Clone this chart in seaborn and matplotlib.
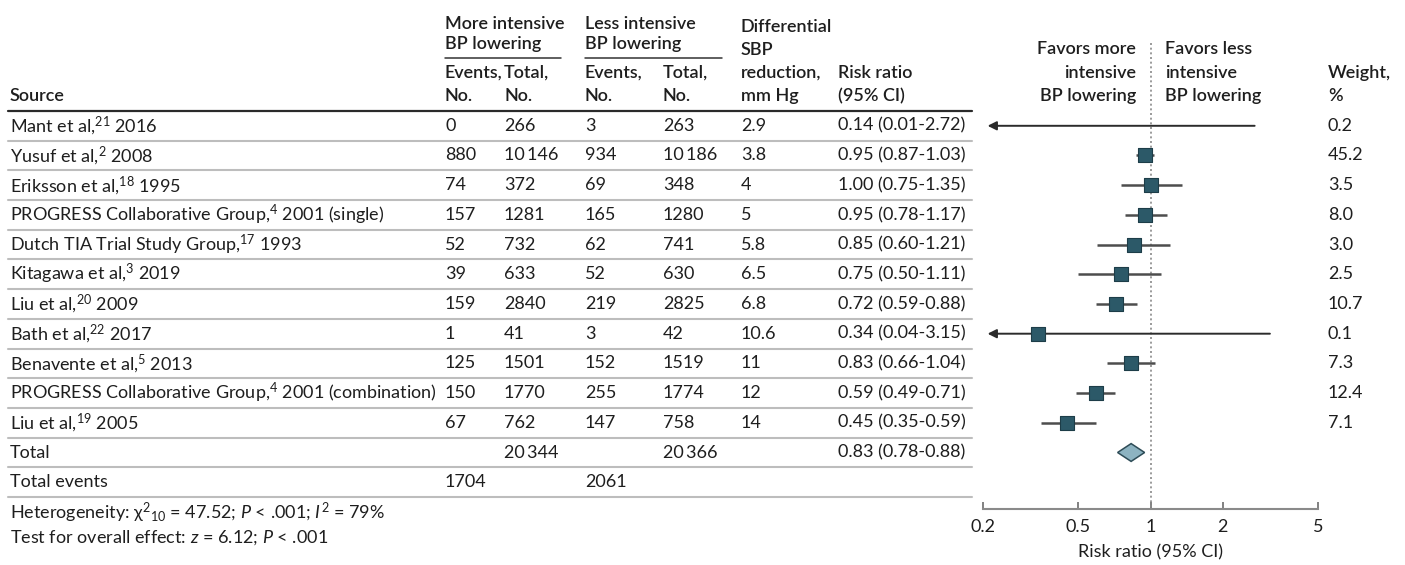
import numpy as np
import pandas as pd
import seaborn as sns
import matplotlib
matplotlib.use("Agg")
import matplotlib.pyplot as plt
from matplotlib.patches import Polygon

# ---- study-level data -------------------------------------------------------
sources = [
    "Mant et al,$^{21}$ 2016",
    "Yusuf et al,$^{2}$ 2008",
    "Eriksson et al,$^{18}$ 1995",
    "PROGRESS Collaborative Group,$^{4}$ 2001 (single)",
    "Dutch TIA Trial Study Group,$^{17}$ 1993",
    "Kitagawa et al,$^{3}$ 2019",
    "Liu et al,$^{20}$ 2009",
    "Bath et al,$^{22}$ 2017",
    "Benavente et al,$^{5}$ 2013",
    "PROGRESS Collaborative Group,$^{4}$ 2001 (combination)",
    "Liu et al,$^{19}$ 2005",
]
ev_more = [0, 880, 74, 157, 52, 39, 159, 1, 125, 150, 67]
tot_more = [266, 10146, 372, 1281, 732, 633, 2840, 41, 1501, 1770, 762]
ev_less = [3, 934, 69, 165, 62, 52, 219, 3, 152, 255, 147]
tot_less = [263, 10186, 348, 1280, 741, 630, 2825, 42, 1519, 1774, 758]
sbp_diff = ["2.9", "3.8", "4", "5", "5.8", "6.5", "6.8", "10.6", "11", "12", "14"]
rr = [0.14, 0.95, 1.00, 0.95, 0.85, 0.75, 0.72, 0.34, 0.83, 0.59, 0.45]
rr_lo = [0.01, 0.87, 0.75, 0.78, 0.60, 0.50, 0.59, 0.04, 0.66, 0.49, 0.35]
rr_hi = [2.72, 1.03, 1.35, 1.17, 1.21, 1.11, 0.88, 3.15, 1.04, 0.71, 0.59]
weight = [0.2, 45.2, 3.5, 8.0, 3.0, 2.5, 10.7, 0.1, 7.3, 12.4, 7.1]

pooled_rr, pooled_lo, pooled_hi = 0.83, 0.78, 0.88
total_more, total_less = 20344, 20366
events_more, events_less = 1704, 2061

axis_ticks = [0.2, 0.5, 1, 2, 5]
axis_tick_labels = ["0.2", "0.5", "1", "2", "5"]

# ---- styling ---------------------------------------------------------------
sns.set_theme(style="white")
FONT = ["Lato", "DejaVu Sans"]
plt.rcParams["font.family"] = FONT
plt.rcParams["mathtext.fontset"] = "custom"
plt.rcParams["mathtext.rm"] = "Lato"
plt.rcParams["mathtext.it"] = "Lato:italic"
plt.rcParams["mathtext.bf"] = "Lato:bold"

W, H = 1405, 565
FS = 13
TXT = "#1e1e1e"
SQ = "#2c5968"
SQ_EDGE = "#1d3d48"
CI = "#4d4d4d"

fig = plt.figure(figsize=(W / 100, H / 100), dpi=100)
fig.patch.set_facecolor("white")

# pixel-space canvas for the table
tab = fig.add_axes([0, 0, 1, 1])
tab.set_xlim(0, W)
tab.set_ylim(H, 0)
tab.axis("off")

ROW0, PITCH = 125.8, 29.7
n = len(sources)


def row_y(i):
    return ROW0 + PITCH * i


def fmt_n(v):
    return f"{v:,}".replace(",", "\u2009") if v >= 10000 else str(v)


def put(x, y, s, ha="left", weight="normal", **kw):
    tab.text(x, y, s, ha=ha, va="center", fontsize=FS, color=TXT,
             fontweight=weight, family=FONT, **kw)


# header block
HW = "semibold"
cols = dict(src=10, em=445, tm=504, el=585, tl=663, sbp=741, rr=838, w=1328)
put(cols["em"], 24, "More intensive", weight=HW)
put(cols["em"], 44, "BP lowering", weight=HW)
put(cols["el"], 24, "Less intensive", weight=HW)
put(cols["el"], 44, "BP lowering", weight=HW)
tab.plot([445, 561], [58, 58], color="#333333", lw=1.1)
tab.plot([585, 722], [58, 58], color="#333333", lw=1.1)
put(cols["em"], 73, "Events,", weight=HW)
put(cols["em"], 96, "No.", weight=HW)
put(cols["tm"], 73, "Total,", weight=HW)
put(cols["tm"], 96, "No.", weight=HW)
put(cols["el"], 73, "Events,", weight=HW)
put(cols["el"], 96, "No.", weight=HW)
put(cols["tl"], 73, "Total,", weight=HW)
put(cols["tl"], 96, "No.", weight=HW)
put(cols["sbp"], 27, "Differential", weight=HW)
put(cols["sbp"], 50, "SBP", weight=HW)
put(cols["sbp"], 73, "reduction,", weight=HW)
put(cols["sbp"], 96, "mm Hg", weight=HW)
put(cols["rr"], 73, "Risk ratio", weight=HW)
put(cols["rr"], 96, "(95% CI)", weight=HW)
put(cols["src"], 96, "Source", weight=HW)
put(1136, 49, "Favors more", ha="right", weight=HW)
put(1136, 73, "intensive", ha="right", weight=HW)
put(1136, 96, "BP lowering", ha="right", weight=HW)
put(1165, 49, "Favors less", weight=HW)
put(1165, 73, "intensive", weight=HW)
put(1165, 96, "BP lowering", weight=HW)
put(cols["w"], 73, "Weight,", weight=HW)
put(cols["w"], 96, "%", weight=HW)

# rule lines
tab.plot([8, 972], [ROW0 - PITCH / 2] * 2, color="#2a2a2a", lw=1.6)
for k in range(1, n + 3):
    yy = ROW0 - PITCH / 2 + PITCH * k
    tab.plot([8, 972], [yy, yy], color="#bdbdbd", lw=1.5)

# study rows
for i in range(n):
    y = row_y(i)
    put(cols["src"], y, sources[i])
    put(cols["em"], y, fmt_n(ev_more[i]))
    put(cols["tm"], y, fmt_n(tot_more[i]))
    put(cols["el"], y, fmt_n(ev_less[i]))
    put(cols["tl"], y, fmt_n(tot_less[i]))
    put(cols["sbp"], y, sbp_diff[i])
    put(cols["rr"], y, f"{rr[i]:.2f} ({rr_lo[i]:.2f}-{rr_hi[i]:.2f})")
    put(cols["w"], y, f"{weight[i]:.1f}")

# summary rows
y_tot = row_y(n)
put(cols["src"], y_tot, "Total")
put(cols["tm"], y_tot, fmt_n(total_more))
put(cols["tl"], y_tot, fmt_n(total_less))
put(cols["rr"], y_tot, f"{pooled_rr:.2f} ({pooled_lo:.2f}-{pooled_hi:.2f})")
y_ev = row_y(n + 1)
put(cols["src"], y_ev, "Total events")
put(cols["em"], y_ev, fmt_n(events_more))
put(cols["el"], y_ev, fmt_n(events_less))

put(cols["src"], 513,
    "Heterogeneity: \u03c7$^{2}{}_{10}$ = 47.52; $\\mathit{P}$ < .001; $\\mathit{I}^{2}$ = 79%")
put(cols["src"], 538, r"Test for overall effect: $\mathit{z}$ = 6.12; $\mathit{P}$ < .001")

# ---- forest panel -----------------------------------------------------------
AX_L, AX_R, AX_B = 983, 1318, 509
fx = fig.add_axes([AX_L / W, 1 - AX_B / H, (AX_R - AX_L) / W, AX_B / H])
fx.set_facecolor("none")
fx.set_xscale("log")
xmin, xmax = axis_ticks[0], axis_ticks[-1]
fx.set_xlim(xmin, xmax)
fx.set_ylim((AX_B - ROW0) / PITCH, -ROW0 / PITCH)
px_per_decade = (AX_R - AX_L) / np.log10(xmax / xmin)

# null line
fx.vlines(1, (43 - ROW0) / PITCH, (AX_B - ROW0) / PITCH, colors="#8a8a8a",
          linestyles=(0, (1.2, 1.6)), lw=1.2, zorder=1)

df = pd.DataFrame({"row": np.arange(n), "rr": rr, "lo": rr_lo, "hi": rr_hi})

# confidence intervals (arrow when the interval runs off the scale)
for r in df.itertuples():
    if r.lo < xmin:
        fx.annotate("", xy=(xmin * 1.045, r.row), xytext=(r.hi, r.row),
                    arrowprops=dict(arrowstyle="-|>", color="#2b2b2b", lw=1.4,
                                    mutation_scale=13, shrinkA=0, shrinkB=0),
                    zorder=2)
    else:
        fx.hlines(r.row, r.lo, r.hi, colors=CI, lw=1.8, zorder=2)

sns.scatterplot(data=df, x="rr", y="row", marker="s", s=104, color=SQ,
                edgecolor=SQ_EDGE, linewidth=0.8, ax=fx, zorder=3,
                legend=False)

# pooled estimate diamond (kept at least ~13 px wide each side for legibility)
yd = n
hh = 0.30
min_half = 13.5 / px_per_decade
d_lo = min(pooled_lo, pooled_rr / 10 ** min_half)
d_hi = max(pooled_hi, pooled_rr * 10 ** min_half)
fx.add_patch(Polygon([(d_lo, yd), (pooled_rr, yd - hh), (d_hi, yd),
                      (pooled_rr, yd + hh)], closed=True, facecolor="#8db3c1",
                     edgecolor="#2e4c57", lw=1.1, zorder=3))

for side in ("top", "right", "left"):
    fx.spines[side].set_visible(False)
fx.spines["bottom"].set_color("#8a8a8a")
fx.spines["bottom"].set_linewidth(1.5)
fx.set_xticks(axis_ticks)
fx.set_xticklabels(axis_tick_labels)
fx.xaxis.set_minor_locator(matplotlib.ticker.NullLocator())
fx.tick_params(axis="x", direction="in", length=5, width=1.3, color="#777777",
               labelsize=FS, labelcolor=TXT, pad=7, bottom=True)
fx.set_yticks([])
fx.set_xlabel("Risk ratio (95% CI)", fontsize=FS, color=TXT, labelpad=7,
              family=FONT)
fx.set_ylabel("")

fig.savefig("out.png", dpi=100, facecolor="white")
